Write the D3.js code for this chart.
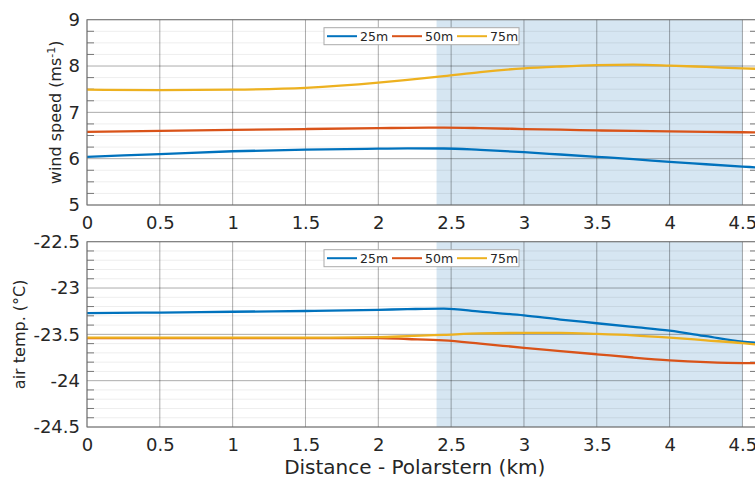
<!DOCTYPE html>
<html>
<head>
<meta charset="utf-8">
<script src="https://cdn.jsdelivr.net/npm/d3@7"></script>
<style>
  body { margin: 0; background: #fff; }
  text { font-family: "DejaVu Sans", sans-serif; fill: #262626; }
</style>
</head>
<body>
<svg id="chart" width="755" height="481"></svg>
<script>
// distance from Polarstern (km)
const distance = [0, 0.5, 1, 1.5, 2, 2.2, 2.45, 2.7, 3, 3.25, 3.5, 3.75, 4, 4.25, 4.5, 4.6];

const heights = ["25m", "50m", "75m"];
const colors = ["#0072BD", "#D95319", "#EDB120"];

// wind speed (m/s)
const wind25 = [6.04, 6.10, 6.16, 6.195, 6.215, 6.222, 6.22, 6.19, 6.14, 6.09, 6.04, 5.99, 5.93, 5.88, 5.83, 5.81];
const wind50 = [6.58, 6.60, 6.62, 6.64, 6.66, 6.665, 6.67, 6.66, 6.64, 6.625, 6.61, 6.60, 6.59, 6.58, 6.57, 6.565];
const wind75 = [7.49, 7.48, 7.49, 7.53, 7.64, 7.70, 7.78, 7.87, 7.95, 7.99, 8.02, 8.03, 8.01, 7.98, 7.95, 7.94];

// air temperature (deg C)
const temp25 = [-23.27, -23.265, -23.256, -23.248, -23.235, -23.228, -23.222, -23.255, -23.295, -23.34, -23.38, -23.42, -23.46, -23.52, -23.58, -23.59];
const temp50 = [-23.54, -23.54, -23.54, -23.54, -23.54, -23.55, -23.565, -23.60, -23.645, -23.68, -23.715, -23.75, -23.78, -23.80, -23.81, -23.81];
const temp75 = [-23.535, -23.535, -23.535, -23.535, -23.53, -23.52, -23.505, -23.49, -23.485, -23.485, -23.495, -23.51, -23.535, -23.565, -23.595, -23.61];

const xTicks = [0, 0.5, 1, 1.5, 2, 2.5, 3, 3.5, 4, 4.5];
const windTicks = [5, 6, 7, 8, 9];
const tempTicks = [-24.5, -24, -23.5, -23, -22.5];
const shadeRange = [2.4, 4.5];

const svg = d3.select("#chart");
const left = 87, right = 757;

const x = d3.scaleLinear().domain([0, 4.6]).range([left, right]);

function drawPanel(p) {
  const y = d3.scaleLinear().domain(p.domain).range([p.bottom, p.top]);
  const g = svg.append("g");
  const clipId = "clip" + p.id;
  svg.append("clipPath").attr("id", clipId)
    .append("rect")
    .attr("x", left).attr("y", p.top)
    .attr("width", right - left).attr("height", p.bottom - p.top);

  // shaded region
  g.append("rect")
    .attr("x", x(shadeRange[0]))
    .attr("y", p.top)
    .attr("width", x(shadeRange[1]) - x(shadeRange[0]))
    .attr("height", p.bottom - p.top)
    .attr("fill", "rgb(214,230,242)");

  // minor grid
  const minors = d3.range(p.domain[0], p.domain[1] + 1e-9, p.minor)
    .filter(v => !p.ticks.some(t => Math.abs(t - v) < 1e-6));
  g.selectAll(".minor").data(minors).enter().append("line")
    .attr("x1", left).attr("x2", right)
    .attr("y1", d => y(d)).attr("y2", d => y(d))
    .attr("stroke", "#000").attr("stroke-opacity", 0.07);
  // minor tick marks, inward on both sides
  g.selectAll(".mtl").data(minors).enter().append("line")
    .attr("x1", left).attr("x2", left + 7)
    .attr("y1", d => y(d)).attr("y2", d => y(d))
    .attr("stroke", "#777");
  g.selectAll(".mtr").data(minors).enter().append("line")
    .attr("x1", right - 7).attr("x2", right)
    .attr("y1", d => y(d)).attr("y2", d => y(d))
    .attr("stroke", "#777");

  // major grid
  g.selectAll(".gy").data(p.ticks).enter().append("line")
    .attr("x1", left).attr("x2", right)
    .attr("y1", d => y(d)).attr("y2", d => y(d))
    .attr("stroke", "#000").attr("stroke-opacity", 0.33);
  g.selectAll(".gx").data(xTicks).enter().append("line")
    .attr("x1", d => x(d)).attr("x2", d => x(d))
    .attr("y1", p.top).attr("y2", p.bottom)
    .attr("stroke", "#000").attr("stroke-opacity", 0.33);

  // lines
  const line = d3.line()
    .x((d, i) => x(distance[i]))
    .y(d => y(d))
    .curve(d3.curveMonotoneX);
  g.append("g").attr("clip-path", `url(#${clipId})`)
    .selectAll("path").data(p.series).enter().append("path")
    .attr("d", d => line(d))
    .attr("fill", "none")
    .attr("stroke", (d, i) => colors[i])
    .attr("stroke-width", 2.3);

  // axis box
  g.append("rect")
    .attr("x", left).attr("y", p.top)
    .attr("width", right - left).attr("height", p.bottom - p.top)
    .attr("fill", "none").attr("stroke", "#777");

  // tick labels (plain hyphen minus like the original)
  const fmt = d => String(d);
  const ya = g.append("g").attr("transform", `translate(${left},0)`)
    .call(d3.axisLeft(y).tickValues(p.ticks).tickSize(0).tickPadding(7).tickFormat(fmt));
  const xa = g.append("g").attr("transform", `translate(0,${p.bottom})`)
    .call(d3.axisBottom(x).tickValues(xTicks).tickSize(0).tickPadding(11).tickFormat(fmt));
  [ya, xa].forEach(a => {
    a.select(".domain").remove();
    a.selectAll("text").attr("font-size", 18).attr("font-family", null).attr("fill", "#262626");
  });

  const lbl = g.append("text")
    .attr("transform", `translate(${p.labelX},${(p.top + p.bottom) / 2}) rotate(-90)`)
    .attr("text-anchor", "middle")
    .attr("font-size", 16);
  p.label(lbl);

  // legend
  const lg = g.append("g").attr("transform", `translate(324,${p.top + 8})`);
  lg.append("rect").attr("width", 195).attr("height", 17)
    .attr("fill", "#fff").attr("stroke", "#aaa");
  heights.forEach((h, i) => {
    const ox = 3 + i * 65;
    lg.append("line").attr("x1", ox).attr("x2", ox + 30)
      .attr("y1", 8.5).attr("y2", 8.5)
      .attr("stroke", colors[i]).attr("stroke-width", 2);
    lg.append("text").attr("x", ox + 33).attr("y", 13)
      .attr("font-size", 12.5).text(h);
  });
}

drawPanel({
  id: "w", top: 19.7, bottom: 205, domain: [5, 9], ticks: windTicks, minor: 0.25,
  series: [wind25, wind50, wind75], labelX: 61,
  label: t => {
    t.append("tspan").text("wind speed (ms");
    t.append("tspan").attr("baseline-shift", "super").attr("font-size", 11).text("-1");
    t.append("tspan").text(")");
  }
});

drawPanel({
  id: "t", top: 241.7, bottom: 427, domain: [-24.5, -22.5], ticks: tempTicks, minor: 0.1,
  series: [temp25, temp50, temp75], labelX: 25,
  label: t => t.text("air temp. (°C)")
});

svg.append("text")
  .attr("x", x(2.25)).attr("y", 474)
  .attr("text-anchor", "middle")
  .attr("font-size", 20)
  .text("Distance - Polarstern (km)");
</script>
</body>
</html>
